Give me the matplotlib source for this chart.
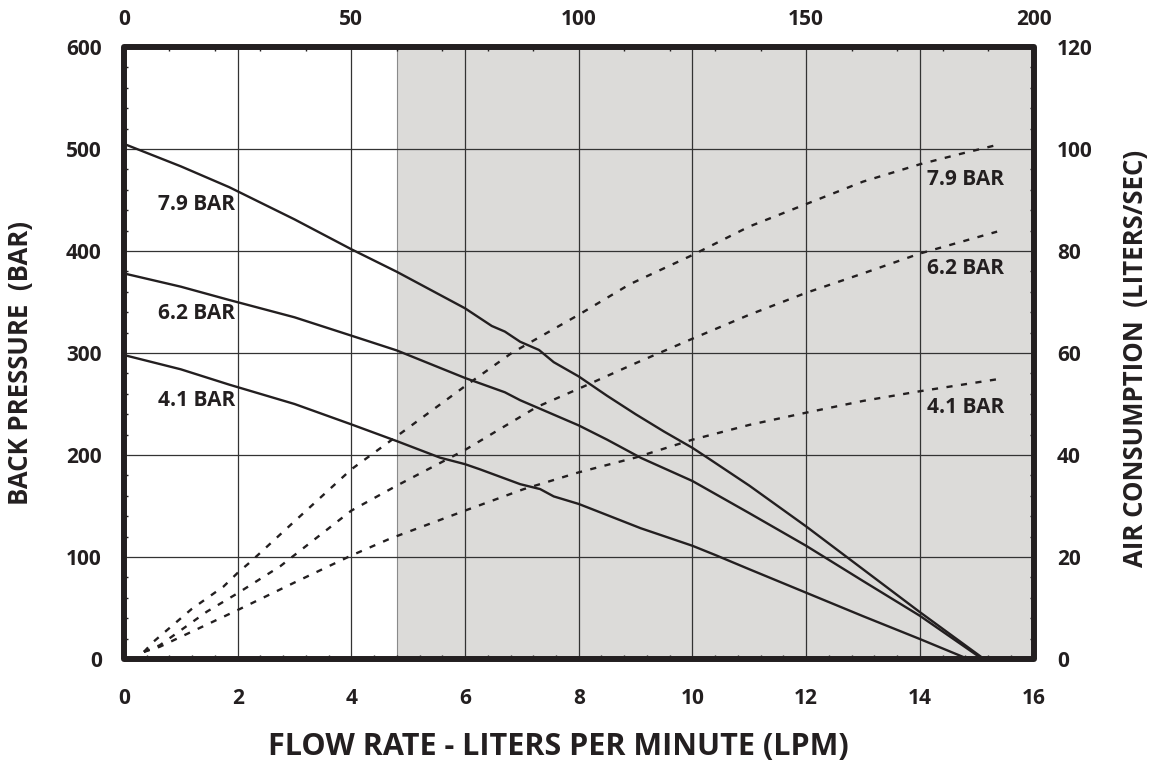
import numpy as np
import matplotlib
matplotlib.use('Agg')
import matplotlib.pyplot as plt
from matplotlib import font_manager
from matplotlib.ticker import MultipleLocator
from matplotlib.patches import Rectangle

# back pressure curves (flow in LPM, pressure in bar)
bp79_lpm = [0, 1.0, 1.85, 3.0, 4.0, 4.8, 6.0, 6.47, 6.7, 6.97, 7.3, 7.56, 8.0, 8.5, 9.0, 9.5, 10.0, 10.3, 11.0, 12.0, 13.0, 14.0, 15.13]
bp79_bar = [505, 483, 462.6, 431, 401.7, 379.6, 343.8, 326.5, 321, 311, 303, 291, 277, 258, 240, 223, 207, 196, 170, 130, 88, 46, 0]
bp62_lpm = [0, 1.0, 1.85, 3.0, 4.0, 4.8, 6.0, 6.7, 6.97, 8.0, 8.5, 9.1, 10.0, 11.0, 12.0, 13.0, 14.0, 15.1]
bp62_bar = [378, 365, 352, 335, 317, 302.5, 275.5, 261.5, 253.7, 229, 215, 197, 174.5, 143, 111, 76.5, 42.4, 0]
bp41_lpm = [0, 1.0, 1.85, 3.0, 4.0, 4.8, 5.56, 6.0, 6.26, 6.97, 7.32, 7.56, 8.0, 8.39, 9.09, 10.0, 10.4, 11.0, 12.0, 13.0, 14.0, 14.85]
bp41_bar = [298, 284, 269, 250, 230, 213.6, 197.4, 191, 186, 171.4, 166.6, 159.4, 152, 143.5, 128.2, 111, 102, 88, 65, 42, 19.6, 0]

# air consumption curves (flow in LPM, air in liters/sec)
air79_lpm = [0.35, 0.52, 1.19, 1.75, 2.0, 2.22, 3.0, 4.0, 4.74, 6.0, 6.82, 8.0, 8.9, 10.0, 11.0, 12.0, 13.0, 14.0, 14.7, 15.36]
air79_lps = [1.4, 3.4, 9.8, 14.2, 16.9, 19.0, 27.0, 37.2, 43.2, 53.5, 60.0, 67.5, 73.5, 79.2, 84.8, 89.2, 93.6, 97.0, 99.0, 100.8]
air62_lpm = [0.35, 0.63, 1.46, 2.0, 2.75, 4.0, 4.8, 6.0, 7.26, 8.0, 9.0, 10.0, 11.0, 12.0, 13.0, 14.0, 15.36]
air62_lps = [1.4, 2.7, 9.3, 12.9, 18.2, 29.1, 34.0, 41.0, 49.4, 53.0, 58.0, 62.8, 67.5, 71.8, 75.6, 79.5, 83.8]
air41_lpm = [0.35, 0.63, 2.0, 3.0, 4.0, 4.68, 6.0, 7.03, 8.0, 9.0, 10.0, 11.0, 12.0, 13.0, 14.0, 15.39]
air41_lps = [1.4, 2.4, 9.6, 15.0, 20.3, 23.6, 29.1, 33.3, 36.6, 39.5, 43.0, 45.9, 48.3, 50.6, 52.5, 54.9]

curve_labels = ['7.9 BAR', '6.2 BAR', '4.1 BAR']
shade_start = 4.8

INK = '#231f20'

installed = {f.name for f in font_manager.fontManager.ttflist}
BODY = 'Open Sans' if 'Open Sans' in installed else 'DejaVu Sans'
if 'Liberation Sans Narrow' in installed:
    TITLE, title_size = 'Liberation Sans Narrow', 21.5
else:
    TITLE, title_size = BODY, 18.5

plt.rcParams['font.family'] = [BODY, 'DejaVu Sans']
plt.rcParams['font.weight'] = 'bold'

fig = plt.figure(figsize=(11.56, 7.6), dpi=100)
ax = fig.add_axes([124 / 1156, 1 - 659 / 760, (1033.5 - 124) / 1156, (659 - 47) / 760])
ax.set_xlim(0, 16)
ax.set_ylim(0, 600)

ax.axvspan(shade_start, 16, facecolor='#dcdbd9', edgecolor='#8a8a8a', lw=0.8, zorder=0)

ax.xaxis.set_major_locator(MultipleLocator(2))
ax.xaxis.set_minor_locator(MultipleLocator(0.4))
ax.yaxis.set_major_locator(MultipleLocator(100))
ax.yaxis.set_minor_locator(MultipleLocator(20))
ax.grid(True, which='major', color='#333333', lw=0.9, zorder=1)
ax.set_axisbelow(True)
ax.tick_params(which='major', length=0, labelsize=15, colors=INK)
ax.tick_params(which='minor', direction='in', length=3.2, width=1.0, color=INK)
ax.tick_params(axis='x', which='major', pad=21)
ax.tick_params(axis='y', which='major', pad=16)
for s in ax.spines.values():
    s.set_visible(False)

# right axis: air consumption
ax2 = ax.twinx()
ax2.set_ylim(0, 120)
ax2.yaxis.set_major_locator(MultipleLocator(20))
ax2.yaxis.set_minor_locator(MultipleLocator(4))
ax2.tick_params(which='major', length=0, labelsize=15, colors=INK, pad=17)
ax2.tick_params(which='minor', direction='in', length=3.2, width=1.0, color=INK)

# top axis
ax3 = ax.twiny()
ax3.set_xlim(0, 200)
ax3.xaxis.set_major_locator(MultipleLocator(50))
ax3.xaxis.set_minor_locator(MultipleLocator(10))
ax3.tick_params(which='major', length=0, labelsize=15, colors=INK, pad=12)
ax3.tick_params(which='minor', direction='in', length=3.2, width=1.0, color=INK)
for a in (ax2, ax3):
    for s in a.spines.values():
        s.set_visible(False)

for xs, ys in [(bp79_lpm, bp79_bar), (bp62_lpm, bp62_bar), (bp41_lpm, bp41_bar)]:
    ax.plot(xs, ys, color=INK, lw=1.7, zorder=3, solid_joinstyle='round')
for xs, ys in [(air79_lpm, air79_lps), (air62_lpm, air62_lps), (air41_lpm, air41_lps)]:
    ax2.plot(xs, ys, color=INK, lw=1.7, dashes=(2.6, 3.6), zorder=3)

for lbl, y in zip(curve_labels, [446, 339, 253]):
    ax.text(1.27, y, lbl, ha='center', va='center', fontsize=15, color=INK, zorder=4)
for lbl, y in zip(curve_labels, [470, 383, 247]):
    ax.text(14.81, y, lbl, ha='center', va='center', fontsize=15, color=INK, zorder=4)

ax.add_patch(Rectangle((0, 0), 1, 1, transform=ax.transAxes, fill=False, lw=4.3,
                       ec=INK, joinstyle='round', clip_on=False, zorder=10))

fig.text(21 / 1156, 1 - 363 / 760, 'BACK PRESSURE  (BAR)', rotation=90, ha='center', va='center',
         family=[TITLE, 'DejaVu Sans'], fontsize=title_size, color=INK)
fig.text(1136 / 1156, 1 - 358 / 760, 'AIR CONSUMPTION  (LITERS/SEC)', rotation=90, ha='center', va='center',
         family=[TITLE, 'DejaVu Sans'], fontsize=title_size, color=INK)
fig.text(558 / 1156, 1 - 747 / 760, 'FLOW RATE - LITERS PER MINUTE (LPM)', ha='center', va='center',
         fontsize=22, color=INK)

fig.savefig('out.png', dpi=100)
